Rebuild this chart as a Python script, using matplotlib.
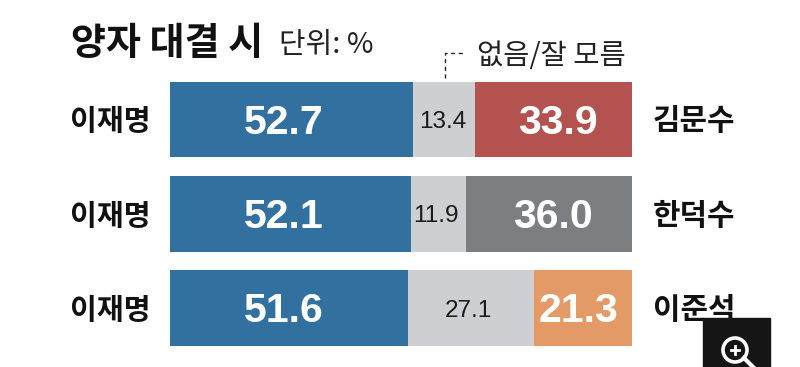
import matplotlib
matplotlib.use("Agg")
import matplotlib.pyplot as plt
from matplotlib.patches import Rectangle, Circle
from matplotlib.lines import Line2D

plt.rcParams['font.family'] = ['Noto Sans CJK KR', 'DejaVu Sans']

left_names = ['이재명', '이재명', '이재명']
right_names = ['김문수', '한덕수', '이준석']
lee = [52.7, 52.1, 51.6]
none = [13.4, 11.9, 27.1]
other = [33.9, 36.0, 21.3]
other_colors = ['#b3524f', '#7d7e82', '#e39a67']

# label nudges from the segment centre, in axis units
lee_shift = [-1.7, -1.4, -1.2]
none_shift = [-0.4, -0.5, -0.5]
other_shift = [0.9, 0.9, -0.9]

W, H = 800, 367
fig = plt.figure(figsize=(8, 3.67), dpi=100, facecolor='white')

# axes placed so the bars land on the reference pixels
ax = fig.add_axes([170 / W, 1 - 355.2 / H, 462 / W, 282.8 / H])
ax.set_xlim(0, 100)
ax.set_ylim(2.5, -0.5)
ax.axis('off')

rows = range(len(lee))
starts = [a + b for a, b in zip(lee, none)]
ax.barh(rows, lee, height=0.8, color='#32709f')
ax.barh(rows, none, left=lee, height=0.8, color='#cdcfd2')
ax.barh(rows, other, left=starts, height=0.8, color=other_colors)

num_font = ['Liberation Sans', 'DejaVu Sans']
for i in rows:
    ax.text(lee[i] / 2 + lee_shift[i], i - 0.01, f'{lee[i]:.1f}', ha='center', va='center_baseline', color='white',
            fontsize=29.5, fontweight='bold', family=num_font)
    ax.text(lee[i] + none[i] / 2 + none_shift[i], i, f'{none[i]:.1f}', ha='center', va='center_baseline',
            color='#1a1a1a', fontsize=17.5, family=num_font)
    ax.text(starts[i] + other[i] / 2 + other_shift[i], i - 0.01, f'{other[i]:.1f}', ha='center', va='center_baseline',
            color='white', fontsize=29.5, fontweight='bold', family=num_font)
    ax.text(-4.3, i + 0.02, left_names[i], ha='right', va='center', fontsize=21, fontweight='bold', color='#111111')
    ax.text(104.5, i + 0.02, right_names[i], ha='left', va='center', fontsize=21.5, fontweight='bold', color='#111111')


def fx(px):
    return px / W


def fy(py):
    return 1 - py / H


fig.text(fx(71), fy(44), '양자 대결 시', fontsize=27.4, fontweight='bold', va='center', color='#111111')
fig.text(fx(279), fy(45), '단위: %', fontsize=20.8, va='center', color='#222222', fontweight='light')
fig.text(fx(477), fy(56), '없음/잘 모름', fontsize=20.5, va='center', color='#222222', fontweight='light')

# dashed leader from the first grey segment
fig.add_artist(Line2D([fx(445), fx(445), fx(463)], [fy(78), fy(53), fy(53)], color='#222222', lw=1,
                      linestyle=(0, (3, 2.5))))

# magnifier badge in the corner
fig.add_artist(Rectangle((fx(703), 0), 67 / W, 49 / H, transform=fig.transFigure, color='#151515', zorder=5))
fig.add_artist(Circle((735, 367 - 350), 12, transform=None, fill=False, ec='white', lw=2.6, zorder=6))
fig.add_artist(Line2D([fx(744), fx(753)], [fy(358), fy(367)], color='white', lw=3, zorder=6))
fig.add_artist(Line2D([fx(731), fx(739)], [fy(350), fy(350)], color='white', lw=2, zorder=6))
fig.add_artist(Line2D([fx(735), fx(735)], [fy(346), fy(354)], color='white', lw=2, zorder=6))

fig.savefig('out.png', dpi=100)
